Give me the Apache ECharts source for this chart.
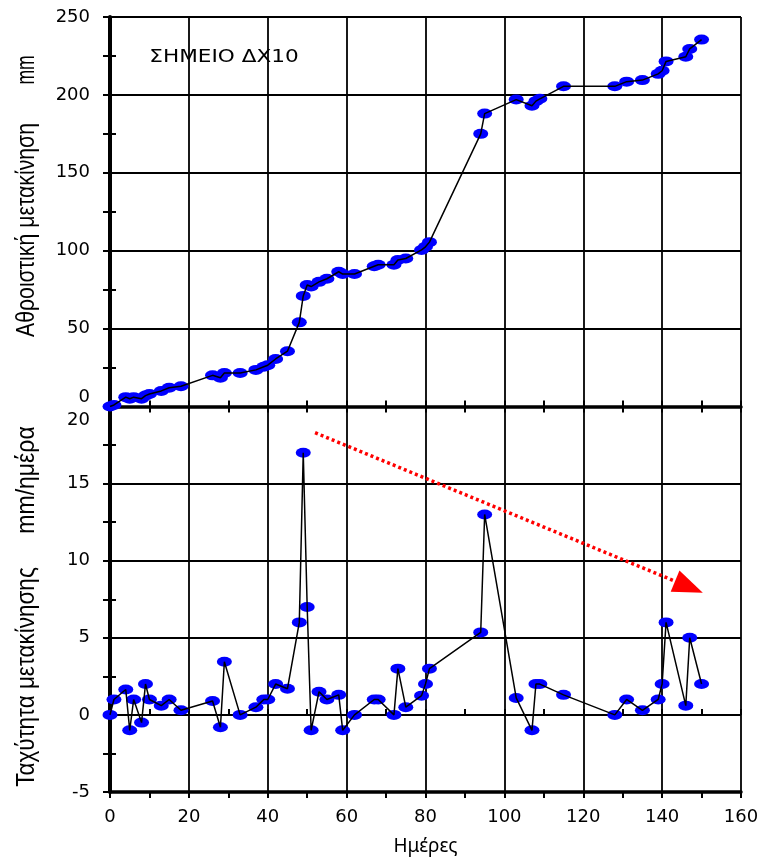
<!DOCTYPE html>
<html>
<head>
<meta charset="utf-8">
<script src="https://cdn.jsdelivr.net/npm/echarts@6/dist/echarts.min.js"></script>
<style>
  html, body { margin: 0; padding: 0; background: #fff; }
  #chart { width: 764px; height: 861px; }
</style>
</head>
<body>
<div id="chart"></div>
<script>
// Survey point ΔΧ10: readings by day
const days = [0, 1, 4, 5, 6, 8, 9, 10, 13, 15, 18, 26, 28, 29, 33, 37, 39, 40, 42, 45,
  48, 49, 50, 51, 53, 55, 58, 59, 62, 67, 68, 72, 73, 75, 79, 80, 81, 94, 95, 103,
  107, 108, 109, 115, 128, 131, 135, 139, 140, 141, 146, 147, 150];

// cumulative displacement (mm)
const cumulative = [0, 1, 6, 5, 6, 5, 7, 8, 10, 12, 13, 20, 18.5, 21.5, 21.5, 23.5, 25.5, 26.5, 30.5, 35.5,
  54, 71, 78, 77, 80, 82, 86.5, 85, 85, 90, 91, 91, 94, 95, 100.5, 102.5, 105.5, 175, 188, 197,
  193, 196, 197.5, 205.5, 205.5, 208.5, 209.5, 213.5, 215.5, 221.5, 224.5, 229.5, 235.5];

// displacement rate (mm/day)
const velocity = [0, 1, 1.65, -1, 1, -0.5, 2, 1, 0.6, 1, 0.3, 0.9, -0.8, 3.45, 0, 0.5, 1, 1, 2, 1.7,
  6, 17, 7, -1, 1.5, 1, 1.3, -1, 0, 1, 1, 0, 3, 0.5, 1.25, 2, 3, 5.35, 13, 1.1,
  -1, 2, 2, 1.3, 0, 1, 0.3, 1, 2, 6, 0.6, 5, 2];

// axis ranges [min, max, interval]
const dayRange = [0, 160, 20];
const cumRange = [0, 250, 50];
const velRange = [-5, 20, 5];

// trend arrow drawn on the rate panel: [day, rate] start and end
const trendStart = [52, 18.3];
const trendEnd = [146.8, 8.3];

const titleText = 'ΣΗΜΕΙΟ ΔΧ10';
const cumNameMain = 'Αθροιστική μετακίνηση';
const cumNameUnit = 'mm';
const velNameMain = 'Ταχύτητα μετακίνησης';
const velNameUnit = 'mm/ημέρα';
const dayName = 'Ημέρες';

const numFont = 'DejaVu Sans';
const nameFont = '"Liberation Sans", Arial, sans-serif';

const cumPoints = days.map((d, i) => [d, cumulative[i]]);
const velPoints = days.map((d, i) => [d, velocity[i]]);

const grids = [
  { left: 110, top: 17, width: 631, height: 389.5 },
  { left: 110, top: 406.5, width: 631, height: 385.5 }
];

function xAxisPair(gridIndex, showLabels) {
  const base = {
    type: 'value', gridIndex, min: dayRange[0], max: dayRange[1], interval: dayRange[2],
    position: 'bottom'
  };
  return [
    Object.assign({}, base, {
      axisLine: { show: true, onZero: false, lineStyle: { color: '#000', width: 3.5 } },
      axisTick: { show: true, inside: false, length: 6, lineStyle: { color: '#000', width: 2 } },
      minorTick: { show: true, splitNumber: 2, length: 6, lineStyle: { color: '#000', width: 2 } },
      splitLine: { show: true, lineStyle: { color: '#000', width: 1.8 } },
      axisLabel: { show: showLabels, margin: 16, color: '#000', fontSize: 18, fontFamily: numFont },
      name: showLabels ? dayName : '',
      nameLocation: 'middle', nameGap: 45,
      nameTextStyle: { color: '#000', fontSize: 19, fontFamily: '"Noto Sans", sans-serif' }
    }),
    Object.assign({}, base, {
      axisLine: { show: false },
      axisTick: { show: true, inside: true, length: 6, lineStyle: { color: '#000', width: 2 } },
      minorTick: { show: true, splitNumber: 2, length: 6, lineStyle: { color: '#000', width: 2 } },
      splitLine: { show: false },
      axisLabel: { show: false }
    })
  ];
}

function yAxisPair(gridIndex, range, formatter, rich) {
  const base = {
    type: 'value', gridIndex, min: range[0], max: range[1], interval: range[2],
    position: 'left'
  };
  return [
    Object.assign({}, base, {
      axisLine: { show: true, onZero: false, lineStyle: { color: '#000', width: 4 } },
      axisTick: { show: true, inside: false, length: 7, lineStyle: { color: '#000', width: 2 } },
      minorTick: { show: true, splitNumber: 2, length: 7, lineStyle: { color: '#000', width: 2 } },
      splitLine: { show: true, lineStyle: { color: '#000', width: 1.8 } },
      axisLabel: {
        show: true, margin: 20, color: '#000', fontSize: 18, fontFamily: numFont,
        formatter, rich
      }
    }),
    Object.assign({}, base, {
      axisLine: { show: false },
      axisTick: { show: true, inside: true, length: 6, lineStyle: { color: '#000', width: 2 } },
      minorTick: { show: true, splitNumber: 2, length: 6, lineStyle: { color: '#000', width: 2 } },
      splitLine: { show: false },
      axisLabel: { show: false }
    })
  ];
}

const labelFontStyle = { fontSize: 18, fontFamily: numFont, color: '#000' };

// vertical axis titles in a narrow face (horizontally condensed, read bottom-to-top)
function sideTitle(text, cx, cy, squeeze) {
  return {
    type: 'text', x: cx, y: cy, rotation: Math.PI / 2, scaleX: squeeze, scaleY: 1,
    silent: true, z: 10,
    style: {
      text, fill: '#000', fontSize: 25, fontFamily: nameFont,
      align: 'center', verticalAlign: 'middle'
    }
  };
}

const dotStyle = { color: '#0000ff', opacity: 1, borderWidth: 0 };

const option = {
  animation: false,
  backgroundColor: '#fff',
  graphic: [
    {
      type: 'text', x: 224, y: 57, scaleX: 1.2, silent: true, z: 10,
      style: {
        text: titleText, fill: '#000', fontSize: 18, fontFamily: numFont,
        align: 'center', verticalAlign: 'middle'
      }
    },
    sideTitle(cumNameMain, 27, 230, 0.85),
    sideTitle(cumNameUnit, 27, 70, 0.7),
    sideTitle(velNameMain, 27, 677, 0.9),
    sideTitle(velNameUnit, 27, 480, 0.92)
  ],
  grid: grids,
  xAxis: [...xAxisPair(0, false), ...xAxisPair(1, true)],
  yAxis: [
    ...yAxisPair(0, cumRange,
      v => (v === cumRange[0] ? '{lo|' + v + '}' : String(v)),
      { lo: Object.assign({ padding: [0, 0, 19, 0] }, labelFontStyle) }),
    ...yAxisPair(1, velRange,
      v => (v === velRange[1] ? '{hi|' + v + '}' : String(v)),
      { hi: Object.assign({ padding: [27, 0, 0, 0] }, labelFontStyle) })
  ],
  series: [
    {
      name: 'cumulative-points', type: 'scatter', xAxisIndex: 0, yAxisIndex: 0,
      data: cumPoints, symbol: 'circle', symbolSize: [15, 10],
      itemStyle: dotStyle, z: 2, silent: true
    },
    {
      name: 'cumulative-line', type: 'line', xAxisIndex: 0, yAxisIndex: 0,
      data: cumPoints, showSymbol: false, symbol: 'none',
      lineStyle: { color: '#000', width: 1.5 }, z: 3, silent: true
    },
    {
      name: 'rate-points', type: 'scatter', xAxisIndex: 2, yAxisIndex: 2,
      data: velPoints, symbol: 'circle', symbolSize: [15, 10],
      itemStyle: dotStyle, z: 2, silent: true
    },
    {
      name: 'rate-line', type: 'line', xAxisIndex: 2, yAxisIndex: 2,
      data: velPoints, showSymbol: false, symbol: 'none',
      lineStyle: { color: '#000', width: 1.5 }, z: 3, silent: true,
      markLine: {
        silent: true, animation: false,
        symbol: ['none', 'triangle'], symbolSize: [23, 30],
        label: { show: false },
        lineStyle: { color: '#ff0000', width: 3.5, type: [3, 3] },
        itemStyle: { color: '#ff0000' },
        data: [[{ coord: trendStart }, { coord: trendEnd }]]
      }
    }
  ]
};

const chart = echarts.init(document.getElementById('chart'), null, { renderer: 'canvas' });
chart.setOption(option);
</script>
</body>
</html>
